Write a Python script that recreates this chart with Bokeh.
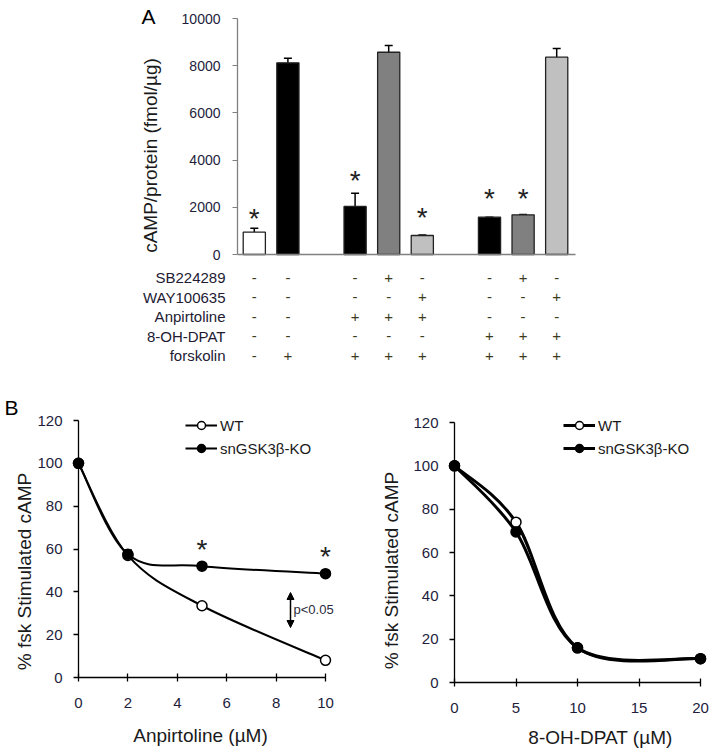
import numpy as np
from bokeh.plotting import figure
from bokeh.models import (Range1d, FixedTicker, Legend, LegendItem, Arrow, NormalHead, Whisker,
                          TeeHead, ColumnDataSource)
from bokeh.layouts import column, row
from bokeh.embed import file_html
from bokeh.resources import INLINE
from bokeh.core.properties import value

FONT = "Liberation Sans"
TICK_COLOR = "#231d3c"
TEXT_COLOR = "#1a1a1a"

# ---------------- Panel A data ----------------
groups = ["1", "1", "2", "2", "2", "3", "3", "3"]
conditions = ["basal", "forskolin", "Anp", "Anp+SB", "Anp+WAY", "DPAT", "DPAT+SB", "DPAT+WAY"]
camp = [945, 8120, 2035, 8570, 805, 1580, 1680, 8360]
camp_err = [165, 200, 560, 285, 20, 0, 15, 370]
bar_colors = ["white", "black", "black", "#808080", "#c0c0c0", "black", "#808080", "#c0c0c0"]
star_y = [1740, None, 3350, None, 1780, 2590, 2590, None]
row_names = ["SB224289", "WAY100635", "Anpirtoline", "8-OH-DPAT", "forskolin"]
treatments = [
    ["-", "-", "-", "+", "-", "-", "+", "-"],
    ["-", "-", "-", "-", "+", "-", "-", "+"],
    ["-", "-", "+", "+", "+", "-", "-", "-"],
    ["-", "-", "-", "-", "-", "+", "+", "+"],
    ["-", "+", "+", "+", "+", "+", "+", "+"],
]
camp_ticks = [0, 2000, 4000, 6000, 8000, 10000]

# ---------------- Panel B data ----------------
anp_x = [0, 2, 5, 10]
anp_wt = [100, 57, 33.5, 8]
anp_ko = [100, 57.5, 52, 48.5]
anp_ko_err = [0, 2, 0, 0]
anp_sig = [False, False, True, True]
dpat_x = [0, 5, 10, 20]
dpat_wt = [100, 74, 16, 11]
dpat_ko = [100, 69.5, 16, 11]
pct_ticks = [0, 20, 40, 60, 80, 100, 120]
anp_ticks = [0, 2, 4, 6, 8, 10]
dpat_ticks = [0, 5, 10, 15, 20]


# ---------------- layout helpers (page pixel -> data) ----------------
class Map:
    def __init__(self, pa, va, pb, vb):
        self.k = (vb - va) / (pb - pa)
        self.pa, self.va = pa, va

    def __call__(self, pix):
        return self.va + (pix - self.pa) * self.k

    def px(self):
        return abs(1.0 / self.k)


def smooth(xs, ys, kx, ky):
    """Catmull-Rom style bezier control points computed in pixel space."""
    X = np.asarray(xs, float) * kx
    Y = np.asarray(ys, float) * ky
    Xp = np.concatenate([[X[0]], X, [X[-1]]])
    Yp = np.concatenate([[Y[0]], Y, [Y[-1]]])
    out = dict(x0=[], y0=[], x1=[], y1=[], cx0=[], cy0=[], cx1=[], cy1=[])
    for i in range(len(X) - 1):
        p0 = np.array([Xp[i], Yp[i]]); p1 = np.array([Xp[i + 1], Yp[i + 1]])
        p2 = np.array([Xp[i + 2], Yp[i + 2]]); p3 = np.array([Xp[i + 3], Yp[i + 3]])
        c0 = p1 + (p2 - p0) / 6.0
        c1 = p2 - (p3 - p1) / 6.0
        out["x0"].append(p1[0] / kx); out["y0"].append(p1[1] / ky)
        out["x1"].append(p2[0] / kx); out["y1"].append(p2[1] / ky)
        out["cx0"].append(c0[0] / kx); out["cy0"].append(c0[1] / ky)
        out["cx1"].append(c1[0] / kx); out["cy1"].append(c1[1] / ky)
    return out


def base_fig(w, h, xr, yr):
    p = figure(width=w, height=h, x_range=xr, y_range=yr, output_backend="svg",
               toolbar_location=None, min_border=0, min_border_left=0, min_border_right=0,
               min_border_top=0, min_border_bottom=0)
    p.outline_line_color = None
    p.grid.visible = False
    return p


def style_axis(ax, color, size):
    ax.minor_tick_line_color = None
    ax.axis_line_color = color
    ax.major_tick_line_color = color
    ax.major_label_text_font = FONT
    ax.major_label_text_font_size = size
    ax.major_label_text_color = TICK_COLOR


def add_text(p, x, y, t, size, color=TEXT_COLOR, align="center", angle=0.0, baseline="middle"):
    p.text(x=[x], y=[y], text=[t], text_font=value(FONT), text_font_size=size, text_color=color,
           text_align=align, text_baseline=baseline, angle=angle)


# ---------------- Panel A: bars + treatment table (one figure) ----------------
W_TOP, H_TOP = 714, 376
# bar slot positions: one slot per bar, one empty slot between groups
positions = []
slot = 0
for i, g in enumerate(groups):
    if i > 0 and g != groups[i - 1]:
        slot += 1
    positions.append(slot)
    slot += 1
n_slots = positions[-1] + 1

mxA = Map(237, -0.5, 573, n_slots - 0.5)
myA = Map(254, 0, 18, 10000)
pA = base_fig(W_TOP, H_TOP, Range1d(mxA(0), mxA(W_TOP)), Range1d(myA(H_TOP), myA(0)))

src = ColumnDataSource(dict(x=positions, camp=camp,
                            upper=[c + e for c, e in zip(camp, camp_err)], color=bar_colors))
pA.vbar(x="x", top="camp", width=0.66, fill_color="color", line_color="#222222", line_width=1.3,
        source=src)
pA.add_layout(Whisker(source=src, base="x", lower="camp", upper="upper", dimension="height",
                      lower_head=None, upper_head=TeeHead(size=8, line_width=1.5, line_color="black"),
                      line_width=1.5, line_color="black"))
sx = [x for x, s in zip(positions, star_y) if s is not None]
sy = [s for s in star_y if s is not None]
pA.text(x=sx, y=sy, text=["*"] * len(sx), text_font=value(FONT), text_font_size="28px",
        text_align="center", text_baseline="alphabetic", y_offset=5, text_color="#222222")

ya = pA.yaxis[0]
ya.fixed_location = -0.5
ya.bounds = (0, 10000)
ya.ticker = FixedTicker(ticks=camp_ticks)
style_axis(ya, "#808080", "14px")
ya.major_tick_in = 0
ya.major_tick_out = 5
ya.major_label_standoff = 12
ya.axis_line_width = 1.3

xa = pA.xaxis[0]
xa.fixed_location = 0
xa.bounds = (-0.5, n_slots - 0.5 + 0.06)
xa.ticker = FixedTicker(ticks=[])
xa.major_tick_out = 0
xa.major_tick_in = 0
xa.axis_line_color = "#808080"
xa.axis_line_width = 1.3
xa.major_label_text_font_size = "0px"

add_text(pA, mxA(150), myA(155), "cAMP/protein (fmol/µg)", "19px", angle=np.pi / 2)
add_text(pA, mxA(148), myA(16), "A", "21px", color="black")

# treatment table
row_pix = [277 + 19.5 * r for r in range(len(row_names))]
tx, ty, tt = [], [], []
for r, signs in enumerate(treatments):
    for x, s in zip(positions, signs):
        tx.append(x); ty.append(myA(row_pix[r])); tt.append(s)
pA.text(x=tx, y=ty, text=tt, text_font=value(FONT), text_font_size="15px",
        text_align="center", text_baseline="middle", text_color="#3b3a1c")
pA.text(x=[mxA(225)] * len(row_names), y=[myA(p) for p in row_pix], text=row_names,
        text_font=value(FONT), text_font_size="15px", text_align="right", text_baseline="middle",
        text_color="#221a33")


# ---------------- Panel B ----------------
def panel_b(x0_page, y0_page, w, h, mx, my, xs, wt, ko, xticks, lw, xlabel, xlab_pos, ylab_pos,
            legend_pos):
    xr = Range1d(mx(x0_page), mx(x0_page + w))
    yr = Range1d(my(y0_page + h), my(y0_page))
    p = base_fig(w, h, xr, yr)
    xa_, ya_ = p.xaxis[0], p.yaxis[0]
    for ax in (xa_, ya_):
        ax.fixed_location = 0
        style_axis(ax, "black", "15px")
        ax.axis_line_width = 1.3
        ax.major_tick_line_width = 1.3
    xa_.bounds = (xticks[0], xticks[-1])
    xa_.ticker = FixedTicker(ticks=xticks)
    xa_.major_tick_in = 4
    xa_.major_tick_out = 4
    xa_.major_label_standoff = 16
    ya_.bounds = (pct_ticks[0], pct_ticks[-1])
    ya_.ticker = FixedTicker(ticks=pct_ticks)
    ya_.major_tick_in = 0
    ya_.major_tick_out = 5
    ya_.major_label_standoff = 11

    kx, ky = mx.px(), my.px()
    bw = smooth(xs, wt, kx, ky)
    bk = smooth(xs, ko, kx, ky)
    rwt = p.bezier(line_color="black", line_width=lw, **bw)
    rko = p.bezier(line_color="black", line_width=lw, **bk)
    swt = p.scatter(xs, wt, size=10, fill_color="white", line_color="black", line_width=1.5)
    sko = p.scatter(xs, ko, size=10, fill_color="black", line_color="black", line_width=1.5)
    items = [LegendItem(label="WT", renderers=[rwt, swt], index=0),
             LegendItem(label="snGSK3β-KO", renderers=[rko, sko], index=0)]
    lg = Legend(items=items, location=legend_pos, orientation="vertical", glyph_width=32,
                glyph_height=20, label_height=20, label_standoff=3, spacing=3, padding=0, margin=0,
                border_line_color=None, background_fill_alpha=0, label_text_font=FONT,
                label_text_font_size="15px", label_text_color=TEXT_COLOR)
    p.add_layout(lg, "center")
    add_text(p, mx(xlab_pos[0]), my(xlab_pos[1]), xlabel, "19px")
    add_text(p, mx(ylab_pos[0]), my(ylab_pos[1]), "% fsk Stimulated cAMP", "19px", angle=np.pi / 2)
    return p


H_B = 750 - H_TOP
W_L = 357
W_R = 714 - W_L

mxL = Map(78, 0, 325, 10)
myL = Map(677, 0, 420, 120)
pL = panel_b(0, H_TOP, W_L, H_B, mxL, myL, anp_x, anp_wt, anp_ko, anp_ticks, 2,
             "Anpirtoline (µM)", (200, 735), (24, 571), (185, 750 - 458))
ex = [x for x, e in zip(anp_x, anp_ko_err) if e > 0]
el = [k for k, e in zip(anp_ko, anp_ko_err) if e > 0]
eu = [k + e for k, e in zip(anp_ko, anp_ko_err) if e > 0]
pL.segment(x0=ex, y0=el, x1=ex, y1=eu, line_color="black", line_width=1.5)
pL.scatter(ex, eu, marker="dash", size=8, line_color="black", line_width=1.5)
stx = [x for x, s in zip(anp_x, anp_sig) if s]
sty = [k + 10.3 for k, s in zip(anp_ko, anp_sig) if s]
pL.text(x=stx, y=sty, text=["*"] * len(stx), text_font=value(FONT), text_font_size="28px",
        text_align="center", text_baseline="alphabetic", y_offset=5, text_color="#222222")
pL.add_layout(Arrow(x_start=mxL(290), y_start=myL(627), x_end=mxL(290), y_end=myL(592),
                    line_width=1.5, line_color="black",
                    start=NormalHead(size=7, fill_color="black", line_color="black"),
                    end=NormalHead(size=7, fill_color="black", line_color="black")))
add_text(pL, mxL(293), myL(609), "p<0.05", "13px", color="#2a2a3a", align="left")
add_text(pL, mxL(11), myL(407), "B", "21px", color="black")

mxR = Map(454, 0, 700, 20)
myR = Map(682, 0, 422, 120)
pR = panel_b(W_L, H_TOP, W_R, H_B, mxR, myR, dpat_x, dpat_wt, dpat_ko, dpat_ticks, 3,
             "8-OH-DPAT (µM)", (600, 737), (391, 570), (563 - W_L, 750 - 458))

layout = column(pA, row(pL, pR, spacing=0), spacing=0)
open("out.html", "w").write(file_html(layout, INLINE))
